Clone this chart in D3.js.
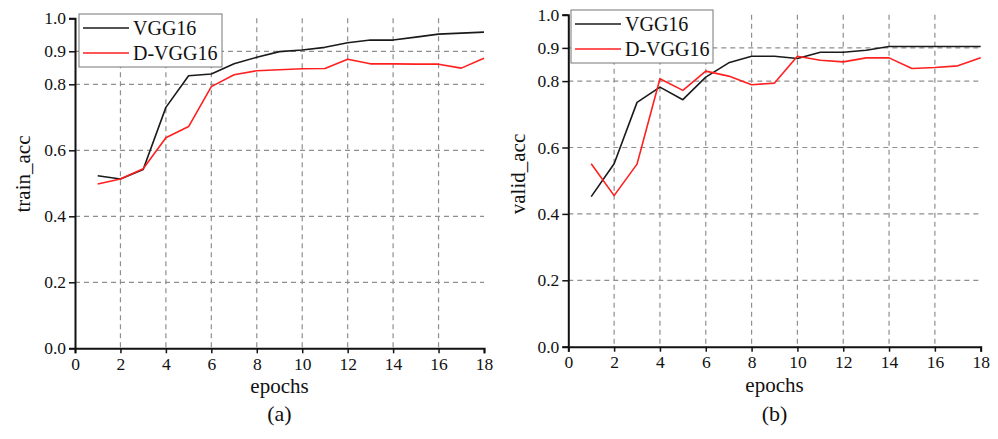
<!DOCTYPE html>
<html>
<head>
<meta charset="utf-8">
<script src="https://cdn.jsdelivr.net/npm/d3@7"></script>
<style>
  body { margin: 0; background: #fff; }
  .grid line { stroke: #8f8f8f; stroke-width: 1.2; stroke-dasharray: 5,4; }
  .axis path, .axis line { stroke: #111; }
  .axis path { stroke-width: 2; }
  .axis line { stroke-width: 1.5; }
</style>
</head>
<body>
<svg id="chart" width="998" height="439"></svg>
<script>
/* data */
var epochs = [1, 2, 3, 4, 5, 6, 7, 8, 9, 10, 11, 12, 13, 14, 15, 16, 17, 18];
var seriesNames = ["VGG16", "D-VGG16"];
var trainVGG16 = [0.523, 0.513, 0.542, 0.730, 0.826, 0.831, 0.862, 0.882, 0.899, 0.904, 0.912, 0.926, 0.934, 0.934, 0.943, 0.952, 0.955, 0.958];
var trainDVGG16 = [0.498, 0.513, 0.544, 0.638, 0.672, 0.793, 0.829, 0.841, 0.844, 0.847, 0.848, 0.876, 0.862, 0.862, 0.861, 0.861, 0.849, 0.879];
var validVGG16 = [0.452, 0.551, 0.736, 0.782, 0.744, 0.812, 0.855, 0.875, 0.875, 0.868, 0.887, 0.887, 0.893, 0.904, 0.904, 0.904, 0.904, 0.904];
var validDVGG16 = [0.551, 0.455, 0.550, 0.807, 0.772, 0.830, 0.815, 0.789, 0.794, 0.875, 0.863, 0.858, 0.870, 0.870, 0.838, 0.841, 0.846, 0.870];
var xTicks = [0, 2, 4, 6, 8, 10, 12, 14, 16, 18];
var yTicks = [0.0, 0.2, 0.4, 0.6, 0.8, 0.9, 1.0];
var yGrid = [0.2, 0.4, 0.6, 0.8, 0.9];
var xGrid = [2, 4, 6, 8, 10, 12, 14, 16];
var colors = ["#1a1a1a", "#ff1f1f"];

const serif = '"Liberation Serif", "Times New Roman", "DejaVu Serif", serif';
const svg = d3.select('#chart').attr('font-family', serif);

/* one panel per plot, positions */
var panels = [
    {x0: 75, x1: 484, yTop: 18.3, yBot: 348.3, series: [trainVGG16, trainDVGG16],
     ylabel: "train_acc", tag: "(a)", ylabX: 30, legend: {x: 79, y: 14, w: 143, h: 53}},
    {x0: 568.3, x1: 980.7, yTop: 14.7, yBot: 346.7, series: [validVGG16, validDVGG16],
     ylabel: "valid_acc", tag: "(b)", ylabX: 525, legend: {x: 571, y: 10, w: 142, h: 53}}
];

panels.forEach(function (p) {
    const xScale = d3.scaleLinear().domain([0, 18]).range([p.x0, p.x1]);
    const yScale = d3.scaleLinear().domain([0, 1]).range([p.yBot, p.yTop]);
    const g = svg.append('g');

    /* dashed grid */
    g.append('g').attr('class', 'grid')
        .selectAll('line').data(yGrid).enter().append('line')
        .attr('x1', p.x0).attr('x2', p.x1)
        .attr('y1', d => yScale(d)).attr('y2', d => yScale(d));
    g.append('g').attr('class', 'grid')
        .selectAll('line').data(xGrid).enter().append('line')
        .attr('x1', d => xScale(d)).attr('x2', d => xScale(d))
        .attr('y1', yScale(1)).attr('y2', p.yBot);

    /* axes */
    g.append('g').attr('class', 'axis')
        .attr('transform', `translate(${p.x0},0)`)
        .call(d3.axisLeft(yScale).tickValues(yTicks).tickFormat(d3.format('.1f'))
            .tickSizeOuter(0).tickSize(6).tickPadding(3))
        .attr('font-family', serif).attr('font-size', 17.5)
        .selectAll('text').attr('fill', '#111');
    g.append('g').attr('class', 'axis')
        .attr('transform', `translate(0,${p.yBot})`)
        .call(d3.axisBottom(xScale).tickValues(xTicks).tickFormat(d3.format('d'))
            .tickSizeOuter(0).tickSize(5).tickPadding(4))
        .attr('font-family', serif).attr('font-size', 17.5)
        .selectAll('text').attr('fill', '#111');

    /* lines */
    const line = d3.line()
        .x((d, i) => xScale(epochs[i]))
        .y(d => yScale(d));
    p.series.forEach(function (s, k) {
        g.append('path')
            .datum(s)
            .attr('fill', 'none')
            .attr('stroke', colors[k])
            .attr('stroke-width', 1.6)
            .attr('stroke-linejoin', 'round')
            .attr('d', line);
    });

    /* legend */
    const lg = g.append('g');
    lg.append('rect')
        .attr('x', p.legend.x).attr('y', p.legend.y)
        .attr('width', p.legend.w).attr('height', p.legend.h)
        .attr('fill', '#fff').attr('stroke', '#777').attr('stroke-width', 1);
    seriesNames.forEach(function (name, k) {
        const ly = p.legend.y + 14 + k * 25;
        lg.append('line')
            .attr('x1', p.legend.x + 4).attr('x2', p.legend.x + 50)
            .attr('y1', ly).attr('y2', ly)
            .attr('stroke', colors[k]).attr('stroke-width', 1.6);
        lg.append('text')
            .attr('x', p.legend.x + 54).attr('y', ly + 7)
            .attr('font-size', '20px').attr('fill', '#111')
            .text(name);
    });

    /* labels */
    const xMid = (p.x0 + p.x1) / 2;
    g.append('text')
        .attr('x', xMid).attr('y', p.yBot + 45)
        .attr('text-anchor', 'middle')
        .attr('font-size', '21px').attr('fill', '#111')
        .text('epochs');
    g.append('text')
        .attr('transform', `translate(${p.ylabX},174) rotate(-90)`)
        .attr('text-anchor', 'middle')
        .attr('font-size', '21px').attr('fill', '#111')
        .text(p.ylabel);
    g.append('text')
        .attr('x', xMid).attr('y', 421)
        .attr('text-anchor', 'middle')
        .attr('font-size', '22px').attr('fill', '#111')
        .text(p.tag);
});
</script>
</body>
</html>
